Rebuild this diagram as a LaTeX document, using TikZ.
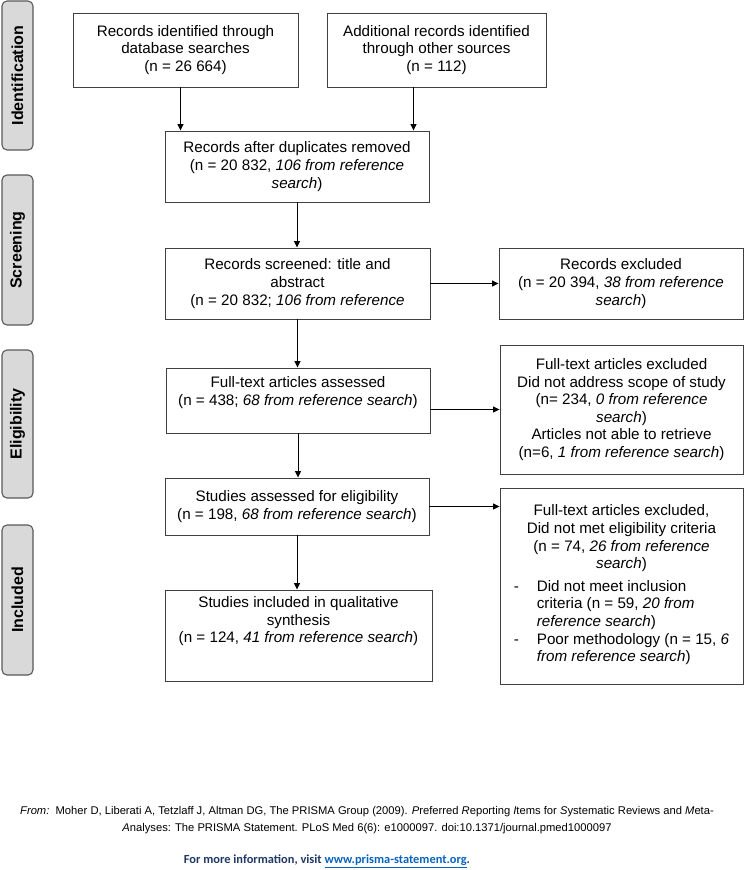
\documentclass[tikz,border=0pt]{standalone}
\usepackage{fontspec}
\setmainfont{Liberation Sans}
\newfontfamily\calibri{Carlito}
\usetikzlibrary{arrows.meta,positioning,calc}
\definecolor{stagefill}{HTML}{D9D9D9}
\definecolor{stageline}{HTML}{595959}
\definecolor{infonavy}{HTML}{1F3864}
\definecolor{linkblue}{HTML}{0563C1}
\newcommand{\boxfont}{\fontsize{15.2}{17.6}\selectfont}

\begin{document}
\begin{tikzpicture}[x=1pt,y=-1pt,>={Triangle[length=6.5pt,width=6pt]}]
  \tikzstyle{flow box}=[rectangle,draw=black!75,line width=0.9pt,align=center,inner sep=2pt,font=\boxfont]
  \tikzstyle{stage box}=[rectangle,rounded corners=5pt,draw=stageline,fill=stagefill,line width=1.1pt,rotate=90,minimum height=31pt,inner sep=0pt,font=\fontsize{16}{18}\selectfont\bfseries]
  \tikzstyle{flow arrow}=[->,line width=1pt]
  \useasboundingbox (0,0) rectangle (744,870);

  % stages
  \node[stage box,minimum width=149pt] (ident) at (17.5,75.5) {Identification};
  \node[stage box,minimum width=150pt] (screen) at (17.5,250) {Screening};
  \node[stage box,minimum width=148pt] (elig) at (17.5,424) {Eligibility};
  \node[stage box,minimum width=150pt] (incl) at (17.5,600) {Included};

  % main flow
  \node[flow box,minimum width=225pt,minimum height=74pt] (dbrec) at (185.5,50)
    {Records identified through\\database searches\\(n = 26 664)};
  \node[flow box,minimum width=219pt,minimum height=74pt] (otherrec) at (436.5,50)
    {Additional records identified\\through other sources\\(n = 112)};
  \node[flow box,minimum width=264pt,minimum height=71pt] (dedup) at (297,166.5)
    {Records after duplicates removed\\(n = 20 832, \textit{106 from reference}\\\textit{search})};
  \node[flow box,minimum width=265pt,minimum height=71pt] (screened) at (297.5,283.5)
    {Records screened: title and\\abstract\\(n = 20 832; \textit{106 from reference}};
  \node[flow box,minimum width=244pt,minimum height=71pt] (excl) at (621,283.5)
    {Records excluded\\(n = 20 394, \textit{38 from reference}\\\textit{search})};
  \node[flow box,minimum width=264pt,minimum height=65pt] (fulltext) at (298,400.5)
    {Full-text articles assessed\\(n = 438; \textit{68 from reference search})\\[2pt]};
  \node[flow box,minimum width=243pt,minimum height=129pt] (ftexcl) at (621.5,409.5)
    {Full-text articles excluded\\Did not address scope of study\\(n= 234, \textit{0 from reference}\\\textit{search})\\Articles not able to retrieve\\(n=6, \textit{1 from reference search})};
  \node[flow box,minimum width=264pt,minimum height=57pt] (eligible) at (297,506.5)
    {Studies assessed for eligibility\\(n = 198, \textit{68 from reference search})};
  \node[flow box,minimum width=243pt,minimum height=196pt] (eligexcl) at (621.5,586)
    {Full-text articles excluded,\\Did not met eligibility criteria\\(n = 74, \textit{26 from reference}\\\textit{search})\\[5pt]
     \begin{tabular}[t]{@{}p{23pt}@{}l@{}}
     - & Did not meet inclusion\\
       & criteria (n = 59, \textit{20 from}\\
       & \textit{reference search})\\
     - & Poor methodology (n = 15, \textit{6}\\
       & \textit{from reference search})
     \end{tabular}};
  \node[flow box,minimum width=267pt,minimum height=91pt] (included) at (298.5,635.5)
    {Studies included in qualitative\\synthesis\\(n = 124, \textit{41 from reference search})\\[14pt]};

  \draw[flow arrow] ([xshift=-5pt]dbrec.south) -- ([xshift=-5pt]dbrec.south |- dedup.north);
  \draw[flow arrow] ([xshift=-23pt]otherrec.south) -- ([xshift=-23pt]otherrec.south |- dedup.north);
  \draw[flow arrow] (dedup.south) -- (dedup.south |- screened.north);
  \draw[flow arrow] (screened) -- (excl);
  \draw[flow arrow] (screened.south) -- (screened.south |- fulltext.north);
  \draw[flow arrow] (fulltext.east |- ftexcl.west) -- (ftexcl.west);
  \draw[flow arrow] (fulltext.south) -- (fulltext.south |- eligible.north);
  \draw[flow arrow] (eligible.east) -- (eligible.east -| eligexcl.west);
  \draw[flow arrow] (eligible.south) -- (eligible.south |- included.north);

  % source note
  \node[align=center,font=\fontsize{11.2}{17}\selectfont] (source) at (367,820)
    {\textit{From:}~~Moher D, Liberati A, Tetzlaff J, Altman DG, The PRISMA Group (2009). \textit{P}referred \textit{R}eporting \textit{I}tems for \textit{S}ystematic Reviews and \textit{M}eta-\\
     \textit{A}nalyses: The PRISMA Statement. PLoS Med 6(6): e1000097. doi:10.1371/journal.pmed1000097};
  \node[font=\calibri\fontsize{12.4}{14}\selectfont\bfseries,text=infonavy,inner sep=1pt] (moreinfo) at (327,861.5)
    {For more information, visit \textcolor{linkblue}{\underline{www.prisma-statement.org}}.};
\end{tikzpicture}
\end{document}
